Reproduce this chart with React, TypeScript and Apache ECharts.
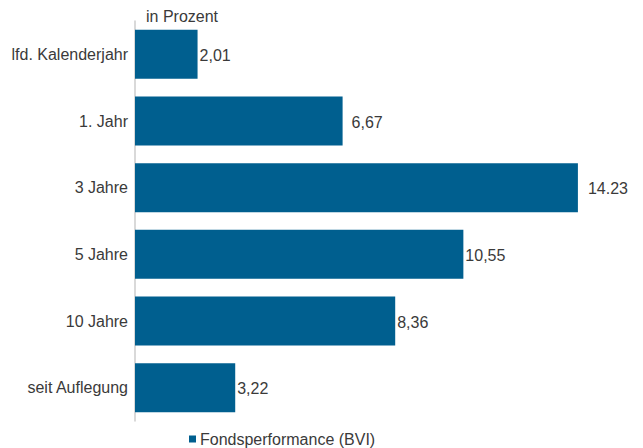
import React, { useEffect, useRef } from "react";
import * as echarts from "echarts";

const categories = ["lfd. Kalenderjahr", "1. Jahr", "3 Jahre", "5 Jahre", "10 Jahre", "seit Auflegung"];
const values = [2.01, 6.67, 14.23, 10.55, 8.36, 3.22];
const valueLabels = ["2,01", "6,67", "14.23", "10,55", "8,36", "3,22"];
const labelGaps = [2, 9, 10, 2, 2, 2];
const seriesName = "Fondsperformance (BVI)";
const unitText = "in Prozent";

export default function App() {
  const ref = useRef<HTMLDivElement>(null);
  useEffect(() => {
    if (!ref.current) return;
    const chart = echarts.init(ref.current, null, { renderer: "svg" });
    const font = "'Liberation Sans', Arial, sans-serif";
    const textColor = "#3a3a3a";
    chart.setOption({
      animation: false,
      textStyle: { fontFamily: font },
      grid: { left: 135, right: 10, top: 21, bottom: 27, containLabel: false },
      legend: {
        data: [seriesName],
        left: 189,
        top: 431,
        padding: 0,
        icon: "rect",
        itemWidth: 7,
        itemHeight: 7,
        itemGap: 5,
        textStyle: { fontFamily: font, fontSize: 16, color: textColor, padding: [0, 0, 0, -1] },
      },
      graphic: [
        {
          type: "text",
          left: 146,
          top: 8,
          style: { text: unitText, fontFamily: font, fontSize: 16, fill: textColor },
        },
      ],
      xAxis: {
        type: "value",
        min: 0,
        max: 16,
        show: false,
        splitLine: { show: false },
      },
      yAxis: {
        type: "category",
        data: categories,
        inverse: true,
        axisLine: { show: true, lineStyle: { color: "#cccccc", width: 1.5 } },
        axisTick: { show: false },
        axisLabel: { fontFamily: font, fontSize: 16, color: textColor, margin: 7 },
      },
      series: [
        {
          name: seriesName,
          type: "bar",
          barWidth: 49,
          itemStyle: { color: "#005f8f" },
          data: values.map((v, i) => ({
            value: v,
            label: {
              show: true,
              position: "right",
              distance: labelGaps[i],
              formatter: () => valueLabels[i],
              fontFamily: font,
              fontSize: 16,
              color: textColor,
              offset: [0, 1],
            },
          })),
        },
      ],
    });
    return () => chart.dispose();
  }, []);
  return <div ref={ref} style={{ width: 643, height: 448, position: "absolute", left: 0, top: 0 }} />;
}
